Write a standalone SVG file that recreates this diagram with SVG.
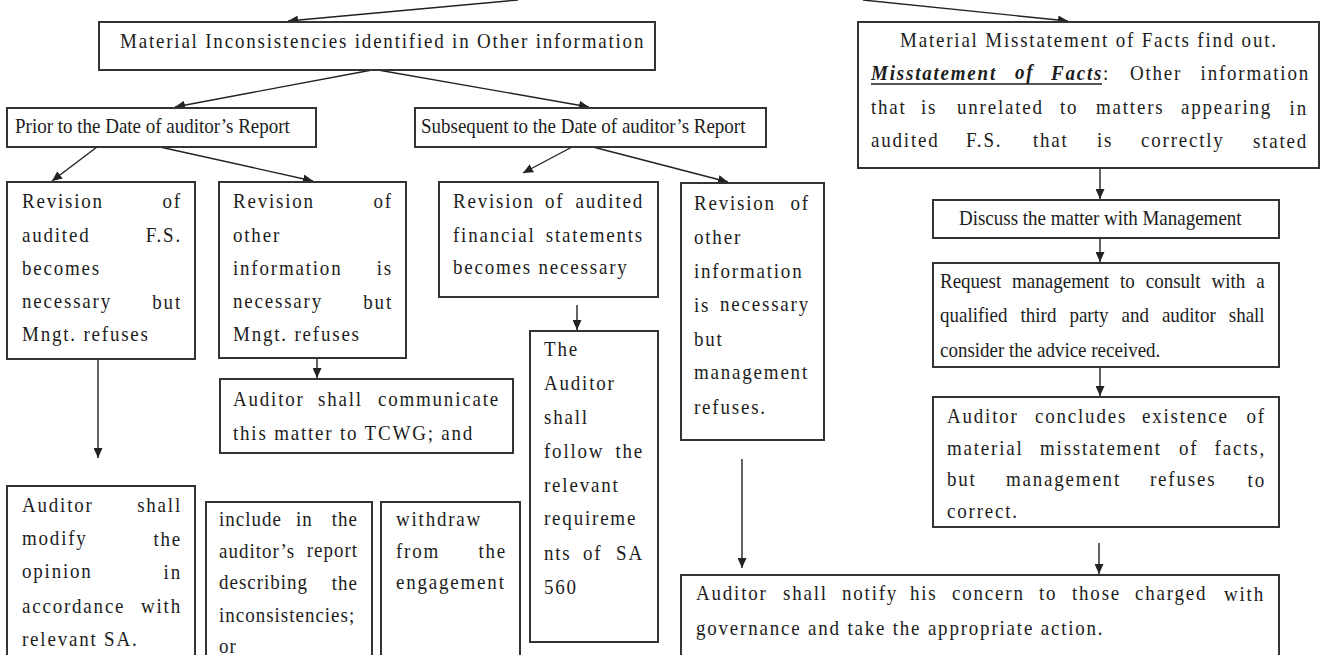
<svg xmlns="http://www.w3.org/2000/svg" width="1323" height="655" viewBox="0 0 1323 655">
  <style>
    .box { fill: #ffffff; stroke: #333333; stroke-width: 2; }
    .t { font-family: "Liberation Serif", "Times New Roman", serif; font-size: 19px; fill: #1c1c1c; letter-spacing: 1.8px;
         transform: scaleY(1.12); transform-box: fill-box; transform-origin: 0 100%; }
    .n { letter-spacing: 0; }
    .tight { letter-spacing: 1px; }
    .e { text-anchor: end; }
    .bi { font-weight: bold; font-style: italic; }
    #connectors line { stroke: #222222; stroke-width: 1.4; fill: none; marker-end: url(#ah); }
  </style>
  <defs>
    <marker id="ah" markerWidth="10" markerHeight="9" refX="10" refY="4.5" orient="auto" markerUnits="userSpaceOnUse">
      <path d="M0,0 L10,4.5 L0,9 z" fill="#222222"/>
    </marker>
  </defs>
  <rect width="1323" height="655" fill="#ffffff"/>

  <!-- connectors -->
  <g id="connectors">
    <line x1="518" y1="0" x2="288" y2="21"/>
    <line x1="863" y1="0" x2="1068" y2="21"/>
    <line x1="372" y1="70" x2="175" y2="107"/>
    <line x1="378" y1="70" x2="589" y2="107"/>
    <line x1="97" y1="147" x2="52" y2="181"/>
    <line x1="160" y1="147" x2="313" y2="181"/>
    <line x1="572" y1="147" x2="523" y2="173"/>
    <line x1="593" y1="147" x2="728" y2="182"/>
    <line x1="98" y1="359" x2="98" y2="458"/>
    <line x1="317" y1="358" x2="317" y2="378"/>
    <line x1="577" y1="305" x2="577" y2="330"/>
    <line x1="742" y1="459" x2="742" y2="568"/>
    <line x1="1100" y1="168" x2="1100" y2="199"/>
    <line x1="1100" y1="238" x2="1100" y2="262"/>
    <line x1="1100" y1="367" x2="1100" y2="396"/>
    <line x1="1099" y1="543" x2="1099" y2="574"/>
  </g>

  <!-- top level: inconsistencies -->
  <g id="material-inconsistencies">
    <rect class="box" x="99" y="22" width="556" height="48"/>
    <text class="t" x="120" y="48">Material Inconsistencies identified in Other information</text>
  </g>

  <!-- top level: misstatement of facts -->
  <g id="misstatement-of-facts">
    <rect class="box" x="858" y="22" width="461" height="146"/>
    <text class="t" x="900" y="47">Material Misstatement of Facts find out.</text>
    <text class="t bi" x="871" y="80">Misstatement</text>
    <text class="t bi" x="1015" y="80">of</text>
    <text class="t bi" x="1051" y="80">Facts</text>
    <line x1="871" y1="84" x2="1102" y2="84" stroke="#1c1c1c" stroke-width="1.5"/>
    <text class="t" x="1103" y="80">:</text>
    <text class="t" x="1130" y="80">Other</text>
    <text class="t e" x="1310" y="80">information</text>
    <text class="t" y="115"><tspan x="871">that</tspan><tspan x="921">is</tspan><tspan x="957">unrelated</tspan><tspan x="1060">to</tspan><tspan x="1096">matters</tspan><tspan x="1181">appearing</tspan></text>
    <text class="t e" x="1308" y="115">in</text>
    <text class="t" y="148"><tspan x="871">audited</tspan><tspan x="966">F.S.</tspan><tspan x="1033">that</tspan><tspan x="1097">is</tspan><tspan x="1141">correctly</tspan></text>
    <text class="t e" x="1308" y="148">stated</text>
  </g>

  <g id="prior-date">
    <rect class="box" x="7" y="108" width="309" height="39"/>
    <text class="t n" x="15" y="134">Prior to the Date of auditor’s Report</text>
  </g>

  <g id="subsequent-date">
    <rect class="box" x="415" y="108" width="351" height="39"/>
    <text class="t n" x="421" y="134">Subsequent to the Date of auditor’s Report</text>
  </g>

  <!-- prior branch -->
  <g id="revision-fs-prior">
    <rect class="box" x="7" y="182" width="188" height="177"/>
    <text class="t" x="22" y="208">Revision</text><text class="t e" x="182" y="208">of</text>
    <text class="t" x="22" y="242">audited</text><text class="t e" x="182" y="242">F.S.</text>
    <text class="t" x="22" y="275">becomes</text>
    <text class="t" x="22" y="309">necessary</text><text class="t e" x="182" y="309">but</text>
    <text class="t" x="22" y="342">Mngt. refuses</text>
  </g>

  <g id="revision-oi-prior">
    <rect class="box" x="219" y="182" width="187" height="176"/>
    <text class="t" x="233" y="208">Revision</text><text class="t e" x="393" y="208">of</text>
    <text class="t" x="233" y="242">other</text>
    <text class="t" x="233" y="275">information</text><text class="t e" x="393" y="275">is</text>
    <text class="t" x="233" y="309">necessary</text><text class="t e" x="393" y="309">but</text>
    <text class="t" x="233" y="342">Mngt. refuses</text>
  </g>

  <g id="communicate-tcwg">
    <rect class="box" x="220" y="379" width="293" height="74"/>
    <text class="t" y="406"><tspan x="233">Auditor</tspan><tspan x="318">shall</tspan></text>
    <text class="t e" x="500" y="406">communicate</text>
    <text class="t" x="233" y="440">this matter to TCWG; and</text>
  </g>

  <g id="modify-opinion">
    <rect class="box" x="7" y="486" width="188" height="190"/>
    <text class="t" x="22" y="512">Auditor</text><text class="t e" x="182" y="512">shall</text>
    <text class="t" x="22" y="546">modify</text><text class="t e" x="182" y="546">the</text>
    <text class="t" x="22" y="579">opinion</text><text class="t e" x="182" y="579">in</text>
    <text class="t" x="22" y="613">accordance</text><text class="t e" x="182" y="613">with</text>
    <text class="t" x="22" y="646">relevant SA.</text>
  </g>

  <g id="include-in-report">
    <rect class="box" x="206" y="502" width="166" height="170"/>
    <text class="t tight" y="526"><tspan x="219">include</tspan><tspan x="296">in</tspan></text>
    <text class="t tight e" x="358" y="526">the</text>
    <text class="t tight" x="219" y="558">auditor’s</text><text class="t tight e" x="358" y="558">report</text>
    <text class="t tight" x="219" y="590">describing</text><text class="t tight e" x="358" y="590">the</text>
    <text class="t tight" x="219" y="622">inconsistencies;</text>
    <text class="t tight" x="219" y="653">or</text>
  </g>

  <g id="withdraw">
    <rect class="box" x="381" y="502" width="139" height="170"/>
    <text class="t" x="396" y="526">withdraw</text>
    <text class="t" x="396" y="558">from</text><text class="t e" x="507" y="558">the</text>
    <text class="t" x="396" y="590">engagement</text>
  </g>

  <!-- subsequent branch -->
  <g id="revision-fs-subsequent">
    <rect class="box" x="439" y="182" width="219" height="115"/>
    <text class="t" y="208"><tspan x="453">Revision</tspan><tspan x="545">of</tspan></text>
    <text class="t e" x="644" y="208">audited</text>
    <text class="t" x="453" y="242">financial</text><text class="t e" x="644" y="242">statements</text>
    <text class="t" x="453" y="275">becomes necessary</text>
  </g>

  <g id="follow-sa560">
    <rect class="box" x="530" y="331" width="128" height="311"/>
    <text class="t" x="544" y="356">The</text>
    <text class="t" x="544" y="390">Auditor</text>
    <text class="t" x="544" y="424">shall</text>
    <text class="t" x="544" y="458">follow</text><text class="t e" x="644" y="458">the</text>
    <text class="t" x="544" y="492">relevant</text>
    <text class="t" x="544" y="526">requireme</text>
    <text class="t" y="560"><tspan x="544">nts</tspan><tspan x="583">of</tspan></text>
    <text class="t e" x="644" y="560">SA</text>
    <text class="t" x="544" y="594">560</text>
  </g>

  <g id="revision-oi-subsequent">
    <rect class="box" x="681" y="183" width="143" height="257"/>
    <text class="t" x="694" y="210">Revision</text><text class="t e" x="810" y="210">of</text>
    <text class="t" x="694" y="244">other</text>
    <text class="t" x="694" y="278">information</text>
    <text class="t" x="694" y="312">is</text><text class="t e" x="810" y="312">necessary</text>
    <text class="t" x="694" y="346">but</text>
    <text class="t" x="694" y="380">management</text>
    <text class="t" x="694" y="414">refuses.</text>
  </g>

  <!-- misstatement branch -->
  <g id="discuss-management">
    <rect class="box" x="933" y="200" width="346" height="38"/>
    <text class="t n" x="959" y="226">Discuss the matter with Management</text>
  </g>

  <g id="third-party-advice">
    <rect class="box" x="933" y="263" width="346" height="104"/>
    <text class="t n" x="940" y="289" word-spacing="6.2">Request management to consult with a</text>
    <text class="t n" x="940" y="323" word-spacing="8.3">qualified third party and auditor shall</text>
    <text class="t n" x="940" y="357">consider the advice received.</text>
  </g>

  <g id="auditor-concludes">
    <rect class="box" x="933" y="397" width="346" height="130"/>
    <text class="t" y="423"><tspan x="947">Auditor</tspan><tspan x="1035">concludes</tspan><tspan x="1142">existence</tspan></text>
    <text class="t e" x="1266" y="423">of</text>
    <text class="t" y="455"><tspan x="947">material</tspan><tspan x="1040">misstatement</tspan><tspan x="1179">of</tspan></text>
    <text class="t e" x="1266" y="455">facts,</text>
    <text class="t" y="487"><tspan x="947">but</tspan><tspan x="1006">management</tspan><tspan x="1150">refuses</tspan></text>
    <text class="t e" x="1266" y="487">to</text>
    <text class="t" x="947" y="518">correct.</text>
  </g>

  <g id="notify-tcwg">
    <rect class="box" x="681" y="575" width="598" height="95"/>
    <text class="t" y="601"><tspan x="696">Auditor</tspan><tspan x="783">shall</tspan><tspan x="842">notify</tspan><tspan x="910">his</tspan><tspan x="952">concern</tspan><tspan x="1039">to</tspan><tspan x="1072">those</tspan><tspan x="1135">charged</tspan></text>
    <text class="t e" x="1265" y="601">with</text>
    <text class="t" x="696" y="636">governance and take the appropriate action.</text>
  </g>
</svg>
